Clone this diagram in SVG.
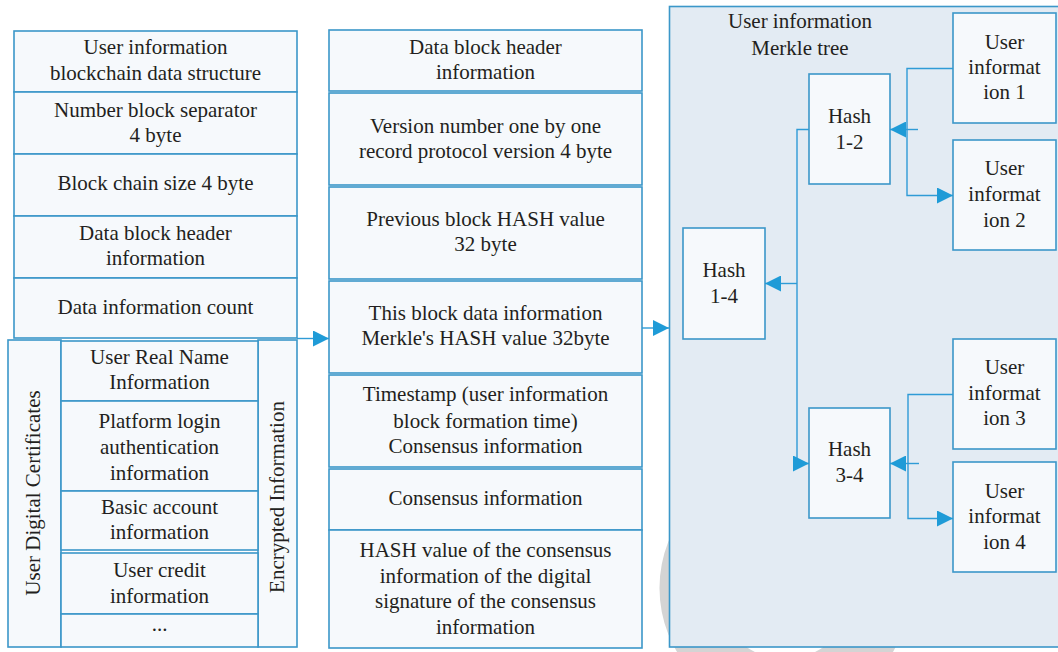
<svg xmlns="http://www.w3.org/2000/svg" width="1058" height="652" viewBox="0 0 1058 652">
  <style>
    .box { fill: #f6f9fc; stroke: #3b97c9; stroke-width: 1.6; }
    .panel { fill: #e3ebf3; stroke: #3b97c9; stroke-width: 1.6; }
    .lbl { font-family: "Liberation Serif", "Times New Roman", serif; font-size: 21px; fill: #231f20; text-anchor: middle; }
    .wire { fill: none; stroke: #2f9bd6; stroke-width: 1.4; }
    .wm { fill: none; stroke: #d4d4d4; stroke-width: 55; }
  </style>
  <defs>
    <marker id="ah" viewBox="0 0 16 16" refX="16" refY="8" markerWidth="16" markerHeight="16" markerUnits="userSpaceOnUse" orient="auto">
      <path d="M0,0 L16,8 L0,16 Z" fill="#1f9bd7"/>
    </marker>
  </defs>

  <rect width="1058" height="652" fill="#ffffff"/>

  <!-- faint background ring -->
  <circle class="wm" cx="785" cy="588" r="98"/>

  <!-- Merkle tree panel -->
  <g id="merkle-panel">
    <rect class="panel" x="669.5" y="6.5" width="400" height="640.5"/>
    <text class="lbl" x="800" y="28">User information</text>
    <text class="lbl" x="800" y="55">Merkle tree</text>
  </g>

  <!-- Left column: blockchain data structure -->
  <g id="left-structure">
    <rect class="box" x="14" y="31" width="283" height="61"/>
    <text class="lbl" x="155.5" y="54">User information</text>
    <text class="lbl" x="155.5" y="80">blockchain data structure</text>
    <rect class="box" x="14" y="92" width="283" height="62"/>
    <text class="lbl" x="155.5" y="117">Number block separator</text>
    <text class="lbl" x="155.5" y="142">4 byte</text>
    <rect class="box" x="14" y="154" width="283" height="62"/>
    <text class="lbl" x="155.5" y="190">Block chain size 4 byte</text>
    <rect class="box" x="14" y="216" width="283" height="62"/>
    <text class="lbl" x="155.5" y="240">Data block header</text>
    <text class="lbl" x="155.5" y="265">information</text>
    <rect class="box" x="14" y="278" width="283" height="60"/>
    <text class="lbl" x="155.5" y="314">Data information count</text>
  </g>

  <!-- Left column: certificates and encrypted information -->
  <g id="user-certificates">
    <rect class="box" x="8" y="340" width="53" height="307"/>
    <text class="lbl" transform="translate(40,493) rotate(-90)">User Digital Certificates</text>
  </g>
  <g id="encrypted-information">
    <rect class="box" x="258" y="340" width="39" height="307"/>
    <text class="lbl" transform="translate(284,497) rotate(-90)">Encrypted Information</text>
  </g>
  <g id="certificate-items">
    <rect class="box" x="61" y="341" width="197" height="60"/>
    <text class="lbl" x="159.5" y="364">User Real Name</text>
    <text class="lbl" x="159.5" y="389">Information</text>
    <rect class="box" x="61" y="401" width="197" height="90"/>
    <text class="lbl" x="159.5" y="428">Platform login</text>
    <text class="lbl" x="159.5" y="454">authentication</text>
    <text class="lbl" x="159.5" y="480">information</text>
    <rect class="box" x="61" y="491" width="197" height="59"/>
    <text class="lbl" x="159.5" y="514">Basic account</text>
    <text class="lbl" x="159.5" y="539">information</text>
    <rect class="box" x="61" y="553" width="197" height="61"/>
    <text class="lbl" x="159.5" y="577">User credit</text>
    <text class="lbl" x="159.5" y="603">information</text>
    <rect class="box" x="61" y="614" width="197" height="33"/>
    <text class="lbl" x="159.5" y="631">...</text>
  </g>

  <!-- Middle column: data block header -->
  <g id="block-header">
    <rect class="box" x="329" y="30" width="313" height="61"/>
    <text class="lbl" x="485.5" y="54">Data block header</text>
    <text class="lbl" x="485.5" y="79">information</text>
    <rect class="box" x="329" y="93" width="313" height="92"/>
    <text class="lbl" x="485.5" y="133">Version number one by one</text>
    <text class="lbl" x="485.5" y="158">record protocol version 4 byte</text>
    <rect class="box" x="329" y="187" width="313" height="92"/>
    <text class="lbl" x="485.5" y="226">Previous block HASH value</text>
    <text class="lbl" x="485.5" y="251">32 byte</text>
    <rect class="box" x="329" y="281" width="313" height="92"/>
    <text class="lbl" x="485.5" y="320">This block data information</text>
    <text class="lbl" x="485.5" y="345">Merkle's HASH value 32byte</text>
    <rect class="box" x="329" y="375" width="313" height="92"/>
    <text class="lbl" x="485.5" y="401">Timestamp (user information</text>
    <text class="lbl" x="485.5" y="428">block formation time)</text>
    <text class="lbl" x="485.5" y="453">Consensus information</text>
    <rect class="box" x="329" y="469" width="313" height="61"/>
    <text class="lbl" x="485.5" y="505">Consensus information</text>
    <rect class="box" x="329" y="530" width="313" height="118"/>
    <text class="lbl" x="485.5" y="557">HASH value of the consensus</text>
    <text class="lbl" x="485.5" y="583">information of the digital</text>
    <text class="lbl" x="485.5" y="608">signature of the consensus</text>
    <text class="lbl" x="485.5" y="634">information</text>
  </g>

  <!-- Merkle tree nodes -->
  <g id="hash-1-4">
    <rect class="box" x="683" y="228" width="82" height="111"/>
    <text class="lbl" x="724" y="277">Hash</text>
    <text class="lbl" x="724" y="303">1-4</text>
  </g>
  <g id="hash-1-2">
    <rect class="box" x="809" y="74" width="81" height="110"/>
    <text class="lbl" x="849.5" y="123">Hash</text>
    <text class="lbl" x="849.5" y="149">1-2</text>
  </g>
  <g id="hash-3-4">
    <rect class="box" x="809" y="408" width="81" height="110"/>
    <text class="lbl" x="849.5" y="456">Hash</text>
    <text class="lbl" x="849.5" y="482">3-4</text>
  </g>
  <g id="user-info-1">
    <rect class="box" x="953" y="13" width="103" height="110"/>
    <text class="lbl" x="1004.5" y="49">User</text>
    <text class="lbl" x="1004.5" y="74">informat</text>
    <text class="lbl" x="1004.5" y="99">ion 1</text>
  </g>
  <g id="user-info-2">
    <rect class="box" x="953" y="140" width="103" height="110"/>
    <text class="lbl" x="1004.5" y="175">User</text>
    <text class="lbl" x="1004.5" y="201">informat</text>
    <text class="lbl" x="1004.5" y="227">ion 2</text>
  </g>
  <g id="user-info-3">
    <rect class="box" x="953" y="339" width="103" height="110"/>
    <text class="lbl" x="1004.5" y="374">User</text>
    <text class="lbl" x="1004.5" y="400">informat</text>
    <text class="lbl" x="1004.5" y="425">ion 3</text>
  </g>
  <g id="user-info-4">
    <rect class="box" x="953" y="462" width="103" height="110"/>
    <text class="lbl" x="1004.5" y="498">User</text>
    <text class="lbl" x="1004.5" y="523">informat</text>
    <text class="lbl" x="1004.5" y="549">ion 4</text>
  </g>

  <!-- Connectors -->
  <g id="connectors">
    <path class="wire" d="M297,338.5 H329" marker-end="url(#ah)"/>
    <path class="wire" d="M642,328 H669" marker-end="url(#ah)"/>
    <path class="wire" d="M809,129.5 H797 V463.5 H809" marker-end="url(#ah)"/>
    <path class="wire" d="M797,283.5 H765" marker-end="url(#ah)"/>
    <path class="wire" d="M953,68.5 H907 V195.5 H953" marker-end="url(#ah)"/>
    <path class="wire" d="M918,129.5 H890" marker-end="url(#ah)"/>
    <path class="wire" d="M953,394.5 H908 V518.5 H953" marker-end="url(#ah)"/>
    <path class="wire" d="M919,463.5 H890" marker-end="url(#ah)"/>
  </g>
</svg>
